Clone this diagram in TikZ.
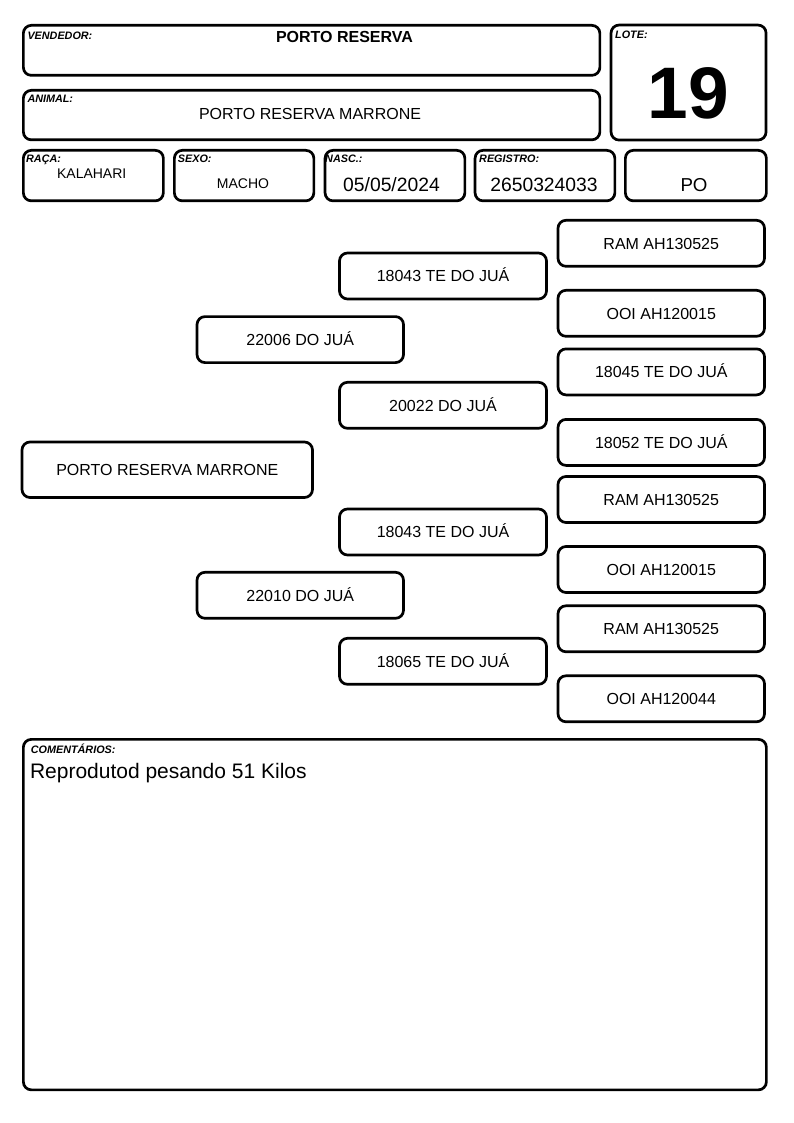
\documentclass[tikz,border=0pt]{standalone}
\usepackage{fontspec}
\setmainfont{Liberation Sans}
\begin{document}
\begin{tikzpicture}[x=1pt,y=-1pt,
  box/.style={draw, line width=2.7pt, rounded corners=8pt, inner sep=0pt, anchor=north west},
  lbl/.style={anchor=base west, inner sep=0pt, font=\fontsize{10.8}{12}\selectfont\bfseries\itshape},
  val/.style={anchor=base, inner sep=0pt},
  ped/.style={draw, line width=2.7pt, rounded corners=8pt, inner sep=0pt, minimum height=46pt,
    text height=11.5pt, text depth=0pt, font=\fontsize{16}{18}\selectfont},
  l3/.style={ped, minimum width=206.5pt},
  l2/.style={ped, minimum width=207pt},
  l1/.style={ped, minimum width=206.5pt}]
\useasboundingbox (0,0) rectangle (794,1123);

% header boxes
\node[box, minimum width=576.5pt, minimum height=50pt] (vendbox) at (22,24) {};
\node[box, minimum width=576.5pt, minimum height=49.5pt] (animbox) at (22,89) {};
\node[box, minimum width=155pt, minimum height=115pt] (lotebox) at (609.7,23.7) {};
\node[box, minimum width=140pt, minimum height=50.5pt] (racabox) at (22,149) {};
\node[box, minimum width=139.5pt, minimum height=50.5pt] (sexobox) at (173,149) {};
\node[box, minimum width=139.8pt, minimum height=50.5pt] (nascbox) at (323.7,149) {};
\node[box, minimum width=139.8pt, minimum height=50.5pt] (regbox) at (473.7,149) {};
\node[box, minimum width=141pt, minimum height=50.5pt] (pobox) at (624,149) {};
\node[box, minimum width=743pt, minimum height=350.5pt] (combox) at (22,738) {};

% header texts
\node[lbl] (vendl) at (27.3,39.3) {VENDEDOR:};
\node[val, font=\fontsize{16}{18}\selectfont\bfseries] (vendv) at (344.5,43) {PORTO RESERVA};
\node[lbl] (animl) at (27.3,102.3) {ANIMAL:};
\node[val, font=\fontsize{16}{18}\selectfont] (animv) at (310,119.3) {PORTO RESERVA MARRONE};
\node[lbl] (lotel) at (615,39) {LOTE:};
\node[val, font=\fontsize{73}{80}\selectfont\bfseries] (lotev) at (688,119) {19};
\node[lbl] (racal) at (26,163) {RAÇA:};
\node[val, font=\fontsize{14}{16}\selectfont] (racav) at (91.7,178.3) {KALAHARI};
\node[lbl] (sexol) at (177.7,163) {SEXO:};
\node[val, font=\fontsize{14}{16}\selectfont] (sexov) at (243,189) {MACHO};
\node[lbl] (nascl) at (325,163) {NASC.:};
\node[val, font=\fontsize{19.3}{21}\selectfont] (nascv) at (391.5,192) {05/05/2024};
\node[val, font=\fontsize{19.3}{21}\selectfont] (regv) at (544,192) {2650324033};
\node[lbl] (regl) at (479,163) {REGISTRO:};
\node[val, font=\fontsize{18.7}{21}\selectfont] (pov) at (694,192) {PO};
\node[lbl] (coml) at (30.7,753.3) {COMENTÁRIOS:};
\node[anchor=base west, inner sep=0pt, font=\fontsize{21}{24}\selectfont] (comv) at (29.8,778.3) {Reprodutod pesando 51 Kilos};

% pedigree
\node[ped, minimum width=290.5pt, minimum height=55.5pt] (subj) at (167.25,469.75) {PORTO RESERVA MARRONE};
\node[l1] (p1) at (300.25,339.6) {22006 DO JUÁ};
\node[l1] (p2) at (300.25,595.3) {22010 DO JUÁ};
\node[l2] (g1) at (443,276) {18043 TE DO JUÁ};
\node[l2] (g2) at (443,405.3) {20022 DO JUÁ};
\node[l2] (g3) at (443,532) {18043 TE DO JUÁ};
\node[l2] (g4) at (443,661.3) {18065 TE DO JUÁ};
\node[l3] (gg1) at (661.25,243.3) {RAM AH130525};
\node[l3] (gg2) at (661.25,313.3) {OOI AH120015};
\node[l3] (gg3) at (661.25,371.9) {18045 TE DO JUÁ};
\node[l3] (gg4) at (661.25,442.4) {18052 TE DO JUÁ};
\node[l3] (gg5) at (661.25,499.5) {RAM AH130525};
\node[l3] (gg6) at (661.25,569.5) {OOI AH120015};
\node[l3] (gg7) at (661.25,628.8) {RAM AH130525};
\node[l3] (gg8) at (661.25,698.8) {OOI AH120044};
\end{tikzpicture}
\end{document}
